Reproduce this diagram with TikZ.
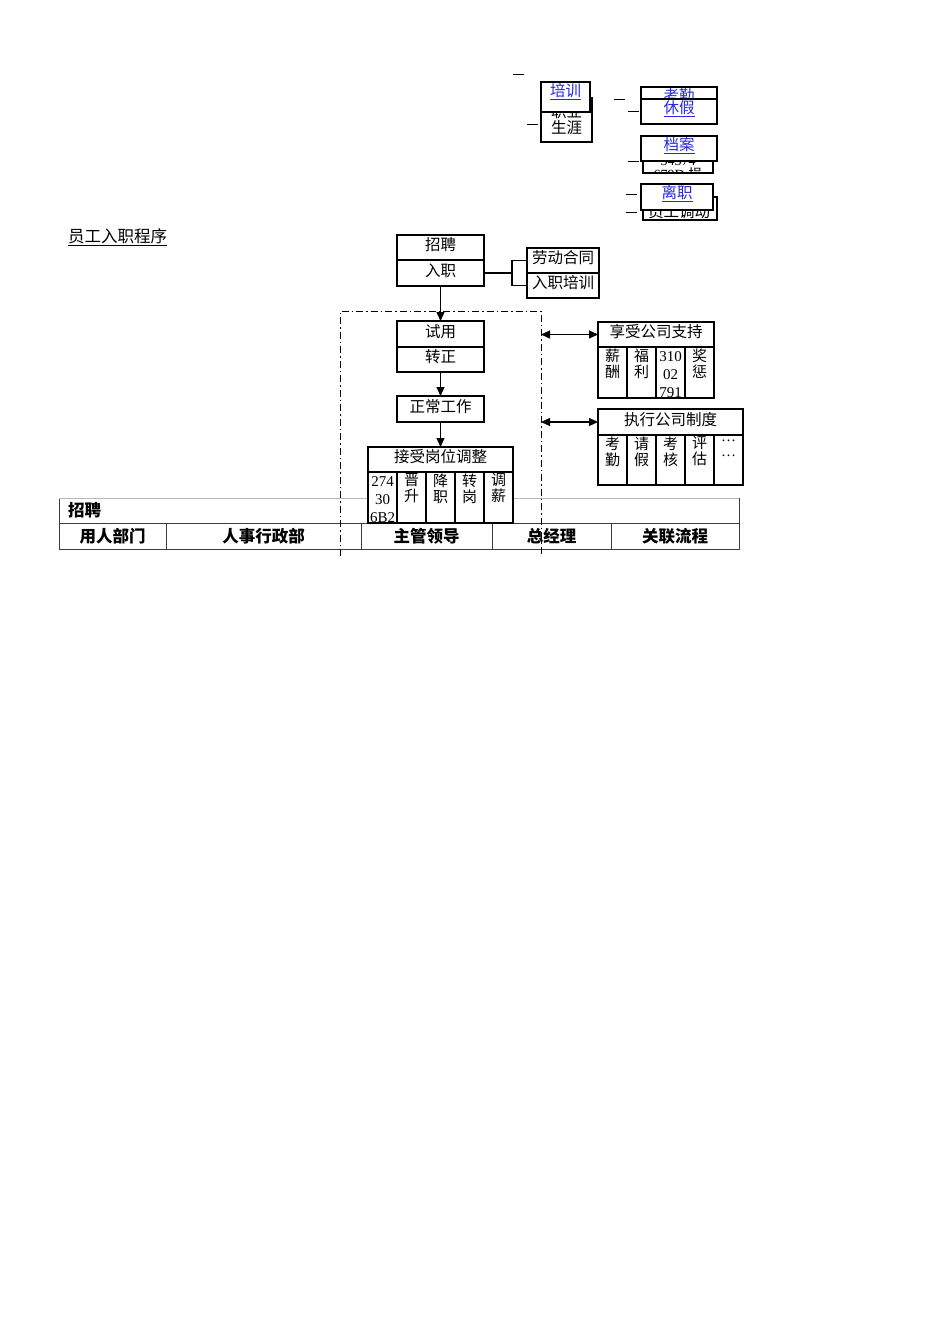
\documentclass[tikz,border=0pt]{standalone}
\usepackage{fontspec}
\setmainfont{Liberation Serif}
\newfontfamily\cjk{Noto Sans CJK SC}
\usetikzlibrary{arrows.meta}
\definecolor{linkblue}{RGB}{40,40,225}
\definecolor{tabline}{RGB}{60,60,60}
\begin{document}
\begin{tikzpicture}[x=1pt,y=-1pt,
  bx/.style={draw=black,line width=1.2pt,fill=white,inner sep=0pt,outer sep=0pt,anchor=north west,
    font=\cjk\fontsize{15.5}{17}\selectfont,align=center},
  up/.style={text height=12pt,text depth=5.5pt},
  tb/.style={draw=tabline,line width=1pt,fill=white,inner sep=0pt,outer sep=0pt,anchor=north west,
    font=\cjk\bfseries\fontsize{16.5}{18}\selectfont},
  vt/.style={anchor=north,inner sep=1.5pt,align=center,font=\cjk\fontsize{15}{16}\selectfont},
  vd/.style={anchor=north,inner sep=1.5pt,yshift=-3pt,align=center,font=\fontsize{15}{18}\selectfont},
  lk/.style={anchor=north,inner sep=1pt,text=linkblue,font=\cjk\fontsize{15.5}{17}\selectfont},
  arr/.style={line width=1.2pt,-{Triangle[length=9pt,width=8pt]}},
  darr/.style={line width=1.2pt,{Triangle[length=9pt,width=8pt]}-{Triangle[length=9pt,width=8pt]}},
  ln/.style={line width=1.2pt},
  dsh/.style={line width=1pt},
  frame/.style={line width=1pt,dash pattern=on 7pt off 3pt on 1.5pt off 3pt}
]
\useasboundingbox (0,0) rectangle (950,1344);
\fill[white] (0,0) rectangle (950,1344);

% ---------------- top cluster ----------------
\draw[dsh] (513,74) -- (524,74);
\draw[dsh] (527,124) -- (538,124);
\node[bx,minimum width=51pt,minimum height=44pt,font=\cjk\fontsize{15.5}{16}\selectfont] (zy) at (541,98) {职业\\生涯};
\node[bx,minimum width=49pt,minimum height=30pt] (px) at (541,82) {};
\node[lk] (pxt) at (px.north) {\underline{培训}};

\draw[dsh] (614,99) -- (625,99);
\draw[dsh] (628,111) -- (639,111);
\node[bx,minimum width=76pt,minimum height=25pt] (kq) at (641,87) {};
\node[lk] (kqt) at (kq.north) {\underline{考勤}};
\node[bx,minimum width=76pt,minimum height=25pt] (xj) at (641,99) {};
\node[lk] (xjt) at (xj.north) {\underline{休假}};

\draw[dsh] (628,161) -- (639,161);
\node[bx,minimum width=70pt,minimum height=24pt] (da2) at (643,149) {};
\begin{scope}
  \clip (da2.north west) rectangle (da2.south east);
  \node[anchor=base,inner sep=0pt,font=\fontsize{14}{15}\selectfont] (da2a) at (678,165) {34374};
  \node[anchor=base,inner sep=0pt,font=\fontsize{14}{15}\selectfont] (da2b) at (678,179) {679D {\cjk 损}};
\end{scope}
\node[bx,minimum width=76pt,minimum height=25pt] (da) at (641,136) {};
\node[lk] (dat) at (da.north) {\underline{档案}};

\draw[dsh] (626,194) -- (637,194);
\draw[dsh] (626,212) -- (637,212);
\node[bx,minimum width=74pt,minimum height=23pt] (yd) at (643,197) {};
\node[anchor=base,inner sep=0pt,font=\cjk\fontsize{15.5}{17}\selectfont] (ydt) at (679,217) {员工调动};
\node[bx,minimum width=72pt,minimum height=26pt] (lz) at (641,184) {};
\node[lk] (lzt) at (lz.north) {\underline{离职}};

% ---------------- title ----------------
\node[anchor=base west,inner sep=0pt,font=\cjk\fontsize{16.5}{18}\selectfont] (title) at (68,242) {\underline{员工入职程序}};

% ---------------- table ----------------
\node[tb,minimum width=680pt,minimum height=25pt] (trow) at (59,498) {};
\draw[gray!55,line width=1pt] (trow.north west) -- (trow.north east);
\node[anchor=west,inner sep=0pt,font=\cjk\bfseries\fontsize{16.5}{18}\selectfont] (ttl) at ([xshift=9pt]trow.west) {招聘};
\node[tb,minimum width=107pt,minimum height=26pt] (c1) at (59,523) {用人部门};
\node[tb,minimum width=195pt,minimum height=26pt] (c2) at (166,523) {人事行政部};
\node[tb,minimum width=131pt,minimum height=26pt] (c3) at (361,523) {主管领导};
\node[tb,minimum width=119pt,minimum height=26pt] (c4) at (492,523) {总经理};
\node[tb,minimum width=128pt,minimum height=26pt] (c5) at (611,523) {关联流程};

% ---------------- dash-dot frame ----------------
\coordinate (fa) at (340,556);
\coordinate (fb) at (340,311);
\coordinate (fc) at (541,311);
\coordinate (fd) at (541,556);
\draw[frame] (fa) -- (fb) -- (fc) -- (fd);

% ---------------- main flow ----------------
\node[bx,up,minimum width=87pt,minimum height=25pt] (zp) at (397,235) {招聘};
\node[bx,up,minimum width=87pt,minimum height=26pt] (rz) at (397,260) {入职};

\node[bx,up,minimum width=72pt,minimum height=25pt] (ld) at (527,248) {劳动合同};
\node[bx,up,minimum width=72pt,minimum height=25pt] (rp) at (527,273) {入职培训};
\coordinate (br) at (512,273);
\draw[ln] (rz.east) -- (br);
\draw[ln] (ld.west) -- (ld.west -| br) -- (rp.west -| br) -- (rp.west);

\node[bx,up,minimum width=87pt,minimum height=26pt] (sy) at (397,321) {试用};
\node[bx,up,minimum width=87pt,minimum height=25pt] (zz) at (397,347) {转正};
\draw[arr] (rz.south) -- (sy.north);

\node[bx,up,minimum width=87pt,minimum height=26pt] (zc) at (397,396) {正常工作};
\draw[arr] (zz.south) -- (zc.north);

\node[bx,up,minimum width=145pt,minimum height=25pt] (js) at (368,447) {接受岗位调整};
\node[bx,minimum width=29pt,minimum height=51pt] (j1) at (368,472) {};
\node[bx,minimum width=29pt,minimum height=51pt] (j2) at (397,472) {};
\node[bx,minimum width=29pt,minimum height=51pt] (j3) at (426,472) {};
\node[bx,minimum width=29pt,minimum height=51pt] (j4) at (455,472) {};
\node[bx,minimum width=29pt,minimum height=51pt] (j5) at (484,472) {};
\node[vd] (j1t) at (j1.north) {274\\30\\6B2};
\node[vt] (j2t) at (j2.north) {晋\\升};
\node[vt] (j3t) at (j3.north) {降\\职};
\node[vt] (j4t) at (j4.north) {转\\岗};
\node[vt] (j5t) at (j5.north) {调\\薪};
\draw[arr] (zc.south) -- (js.north);

% ---------------- right boxes ----------------
\node[bx,up,minimum width=116pt,minimum height=25pt] (xs) at (598,322) {享受公司支持};
\node[bx,minimum width=29pt,minimum height=51pt] (x1) at (598,347) {};
\node[bx,minimum width=29pt,minimum height=51pt] (x2) at (627,347) {};
\node[bx,minimum width=29pt,minimum height=51pt] (x3) at (656,347) {};
\node[bx,minimum width=29pt,minimum height=51pt] (x4) at (685,347) {};
\node[vt] (x1t) at (x1.north) {薪\\酬};
\node[vt] (x2t) at (x2.north) {福\\利};
\node[vd] (x3t) at (x3.north) {310\\02\\791};
\node[vt] (x4t) at (x4.north) {奖\\惩};

\node[bx,up,minimum width=145pt,minimum height=26pt] (zx) at (598,409) {执行公司制度};
\node[bx,minimum width=29pt,minimum height=50pt] (z1) at (598,435) {};
\node[bx,minimum width=29pt,minimum height=50pt] (z2) at (627,435) {};
\node[bx,minimum width=29pt,minimum height=50pt] (z3) at (656,435) {};
\node[bx,minimum width=29pt,minimum height=50pt] (z4) at (685,435) {};
\node[bx,minimum width=29pt,minimum height=50pt] (z5) at (714,435) {};
\node[vt] (z1t) at (z1.north) {考\\勤};
\node[vt] (z2t) at (z2.north) {请\\假};
\node[vt] (z3t) at (z3.north) {考\\核};
\node[vt] (z4t) at (z4.north) {评\\估};
\node[vd,font=\fontsize{15}{15}\selectfont] (z5t) at (z5.north) {…\\…};

\draw[darr] (xs.west -| fc) -- (xs.west);
\draw[darr] (zx.west -| fc) -- (zx.west);
\end{tikzpicture}
\end{document}
